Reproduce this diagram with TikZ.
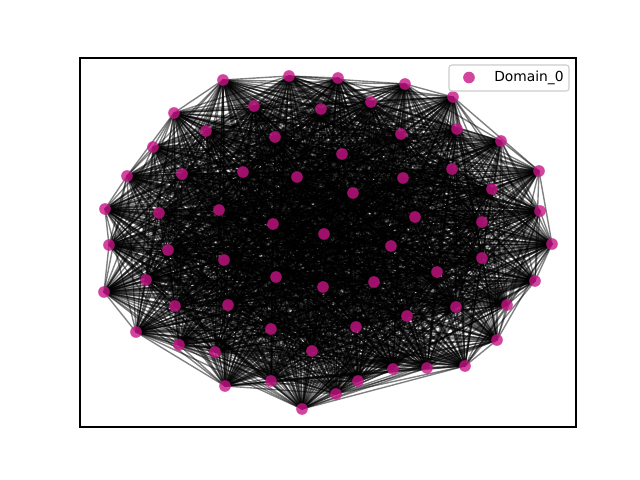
\documentclass[tikz,border=0pt]{standalone}
\usepackage{fontspec}
\setmainfont{DejaVu Sans}
\usepackage{tikz}
\usetikzlibrary{positioning}
\definecolor{domain}{RGB}{199,21,133}
\tikzset{
 dom edge/.style={black,opacity=.5,line width=1pt},
 dom vertex/.style={circle,fill=domain,fill opacity=.8,draw=none,minimum size=8.4pt,
                    inner sep=0pt,outer sep=0pt},
 dom frame/.style={line width=.8pt},
 dom legend/.style={draw=black!20,fill=white,fill opacity=.8,line width=.8pt,rounded corners=2pt},
 dom legend label/.style={font=\fontsize{10}{12}\selectfont,inner sep=0pt,anchor=west}
}

\begin{document}
\begin{tikzpicture}[x=0.7227pt,y=-0.7227pt]
 \useasboundingbox (0,0) rectangle (640,480);
 % vertex positions (pixels)
 \foreach \x/\y [count=\k] in {223/80,289/76,338/78,405/84,453/97,501/141,539/171,
   540/211,552/244,535/281,507/305,497/340,465/366,427/368,393/369,358/381,336/394,
   302/409,271/381,225/386,215/352,179/345,136/332,104/292,109/245,105/209,127/176,
   153/147,174/113,254/106,321/109,371/102,206/131,275/137,401/134,457/129,342/154,
   182/174,243/172,297/177,403/178,452/169,492/189,353/193,159/213,219/210,273/224,
   415/217,482/222,168/250,324/234,391/246,224/260,482/258,146/280,276/277,437/272,
   374/282,323/287,175/306,228/305,456/307,407/316,271/329,356/327,312/351}
   \coordinate (d\k) at (\x,\y);

 % edges
 \pgfmathsetseed{11}
 \foreach \i in {1,...,65}{
   \pgfmathtruncatemacro\nxt{\i+1}
   \foreach \j in {\nxt,...,66}{
     \pgfmathsetmacro\coin{rnd}
     \ifdim\coin pt<.85pt \draw[dom edge] (d\i)--(d\j); \fi
   }
 }

 \foreach \v in {1,...,66} \node[dom vertex] (n\v) at (d\v) {};

 \draw[dom frame] (80,58) rectangle (576,427);

 % legend
 \draw[dom legend] (449,65) rectangle (569,91);
 \node[dom vertex] (key) at (469,77.5) {};
 \node[dom legend label] (keytext) at (494,77.5) {Domain\_0};
\end{tikzpicture}
\end{document}
